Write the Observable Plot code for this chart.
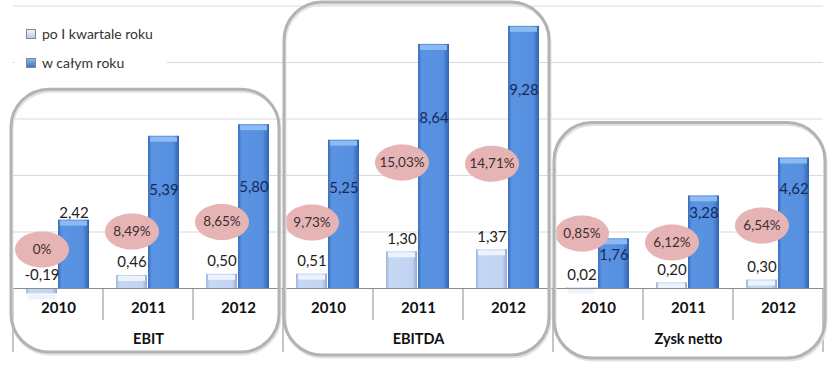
<!DOCTYPE html>
<html><head><meta charset="utf-8">
<script src="https://cdn.jsdelivr.net/npm/d3@7"></script>
<script src="https://cdn.jsdelivr.net/npm/@observablehq/plot@0.6"></script>
<style>
body{margin:0;background:#fff;}
#chart{position:relative;width:835px;height:367px;font-family:Lato,"Open Sans",sans-serif;}
#legend{position:absolute;left:15px;top:18px;width:152px;height:60px;background:#fff;}
.li{position:absolute;left:11px;font-size:14px;color:#333;white-space:nowrap;line-height:16px;}
.sw{display:inline-block;width:8px;height:8px;margin-right:6px;vertical-align:0px;border:0.5px solid #888;}
</style></head><body>
<div id="chart"><div id="legend">
<div class="li" style="top:8px"><span class="sw" style="background:linear-gradient(#eef3fb,#b9cbe8)"></span>po I kwartale roku</div>
<div class="li" style="top:37px"><span class="sw" style="background:linear-gradient(#8ab6f0,#3f72c4)"></span>w całym roku</div>
</div></div>
<script>
const categories = ["EBIT", "EBITDA", "Zysk netto"];
const years = ["2010", "2011", "2012"];
const q1Values = [-0.19, 0.46, 0.50, 0.51, 1.30, 1.37, 0.02, 0.20, 0.30];
const yearValues = [2.42, 5.39, 5.80, 5.25, 8.64, 9.28, 1.76, 3.28, 4.62];
const yearLabelAt = [2.65, 3.47, 3.58, 3.54, 6.02, 7.01, 1.17, 2.65, 3.50];
const margins = ["0%", "8,49%", "8,65%", "9,73%", "15,03%", "14,71%", "0,85%", "6,12%", "6,54%"];
const marginAt = [1.38, 2.02, 2.35, 2.34, 4.46, 4.42, 1.95, 1.63, 2.23];
const gridTicks = [2, 4, 6, 8, 10];

const cells = [];
const q1Rows = [], yearRows = [], notes = [];
categories.forEach((c, i) => years.forEach((y, j) => {
  const k = i * 3 + j;
  const cell = c + "|" + y;
  cells.push(cell);
  q1Rows.push({cell, series: "q1", value: q1Values[k]});
  yearRows.push({cell, series: "year", value: yearValues[k], labelAt: yearLabelAt[k], above: yearLabelAt[k] > yearValues[k]});
  notes.push({cell, series: "q1", text: margins[k], at: marginAt[k]});
}));
const fmt = v => v.toFixed(2).replace(".", ",");

const ellipse = {draw(ctx, size) {
  const r = Math.sqrt(size / Math.PI), rx = r * 1.5, ry = r, k = 0.5523;
  ctx.moveTo(rx, 0);
  ctx.bezierCurveTo(rx, ry * k, rx * k, ry, 0, ry);
  ctx.bezierCurveTo(-rx * k, ry, -rx, ry * k, -rx, 0);
  ctx.bezierCurveTo(-rx, -ry * k, -rx * k, -ry, 0, -ry);
  ctx.bezierCurveTo(rx * k, -ry, rx, -ry * k, rx, 0);
  ctx.closePath();
}};

const plot = Plot.plot({
  width: 835, height: 367,
  marginLeft: 10, marginRight: 10, marginTop: 5.5, marginBottom: 79,
  style: {fontFamily: "Lato, 'Open Sans', sans-serif", background: "transparent", overflow: "visible"},
  fx: {domain: cells, padding: 0},
  x: {domain: ["q1", "year"], paddingInner: 0.03, paddingOuter: 0.38, axis: null},
  y: {domain: [0, 10], axis: null},
  marks: [
    Plot.gridY(gridTicks, {stroke: "#d9d9d9", strokeOpacity: 1}),
    Plot.barY(q1Rows, {fx: "cell", x: "series", y: "value", fill: "url(#gLight)"}),
    Plot.tickY(q1Rows, {fx: "cell", x: "series", y: "value", stroke: "#edf3fc", strokeWidth: 5, dy: 3, inset: 2}),
    Plot.barY(yearRows, {fx: "cell", x: "series", y: "value", fill: "url(#gBlue)"}),
    Plot.tickY(yearRows, {fx: "cell", x: "series", y: "value", stroke: "#8dbaf3", strokeWidth: 5, dy: 3, inset: 2}),
    Plot.ruleY([0], {stroke: "#8c8c8c"}),
    Plot.text(q1Rows, {fx: "cell", x: "series", y: d => Math.max(d.value, 0), text: d => fmt(d.value), dy: -13, fontSize: 15, fill: "#1e1e1e"}),
    Plot.text(yearRows, {fx: "cell", x: "series", y: "labelAt", text: d => fmt(d.value), fontSize: 15, fill: d => d.above ? "#1e1e1e" : "#16295a"}),
    Plot.dot(notes, {fx: "cell", x: "series", y: "at", r: 18, symbol: ellipse, fill: "#e6b4b4", stroke: "none"}),
    Plot.text(notes, {fx: "cell", x: "series", y: "at", text: "text", fontSize: 13.5, fill: "#3a3030"}),
    Plot.axisFx({anchor: "bottom", tickFormat: d => d.split("|")[1], tickSize: 0, tickPadding: 14, fontWeight: "bold", fontSize: 15, fill: "#111", label: null}),
    Plot.axisFx({anchor: "bottom", tickFormat: d => d.endsWith("2011") ? d.split("|")[0] : "", tickSize: 0, tickPadding: 45, fontWeight: "bold", fontSize: 14.5, fill: "#111", label: null})
  ]
});

const svg = d3.select(plot);
const defs = svg.insert("defs", ":first-child");
const grad = (id, stops) => {
  const g = defs.append("linearGradient").attr("id", id).attr("x1", 0).attr("x2", 1).attr("y1", 0).attr("y2", 0);
  stops.forEach(([o, c]) => g.append("stop").attr("offset", o).attr("stop-color", c));
};
grad("gBlue", [[0, "#3a6dc0"], [0.12, "#5a93e1"], [0.8, "#5590de"], [1, "#3262b3"]]);
grad("gLight", [[0, "#9fb6de"], [0.12, "#c6d8f3"], [0.85, "#c1d3f0"], [1, "#93a9d2"]]);

const fx = plot.scale("fx"), y = plot.scale("y");
const bw = fx.bandwidth;
const deco = svg.append("g");
const y0 = y.apply(0);
cells.forEach((c, k) => {
  const x = fx.apply(c);
  deco.append("line").attr("x1", x).attr("x2", x).attr("y1", y0).attr("y2", k % 3 === 0 ? y0 + 64 : y0 + 32)
    .attr("stroke", "#8c8c8c");
});
const xEnd = fx.apply(cells[cells.length - 1]) + bw;
deco.append("line").attr("x1", xEnd).attr("x2", xEnd).attr("y1", y0).attr("y2", y0 + 64).attr("stroke", "#8c8c8c");

categories.forEach((c, i) => {
  const x0 = fx.apply(cells[i * 3]) + (i === 0 ? -2 : 1);
  const x1 = fx.apply(cells[i * 3 + 2]) + bw + (i === 2 ? 2 : -4);
  const maxV = d3.max(yearValues.slice(i * 3, i * 3 + 3));
  const top = Math.max(2, y.apply(maxV) - 35);
  const bottom = y0 + 64 + 3 * i;
  deco.append("rect").attr("x", x0 + 1).attr("y", top + 2).attr("width", x1 - x0).attr("height", bottom - top)
    .attr("rx", 38).attr("fill", "none").attr("stroke", "#e2e2e2").attr("stroke-width", 3);
  deco.append("rect").attr("x", x0).attr("y", top).attr("width", x1 - x0).attr("height", bottom - top)
    .attr("rx", 38).attr("fill", "none").attr("stroke", "#b3b3b3").attr("stroke-width", 3);
});

const chart = document.getElementById("chart");
plot.style.position = "absolute";
plot.style.left = "0px";
plot.style.top = "0px";
chart.insertBefore(plot, chart.firstChild);
</script>
</body></html>
